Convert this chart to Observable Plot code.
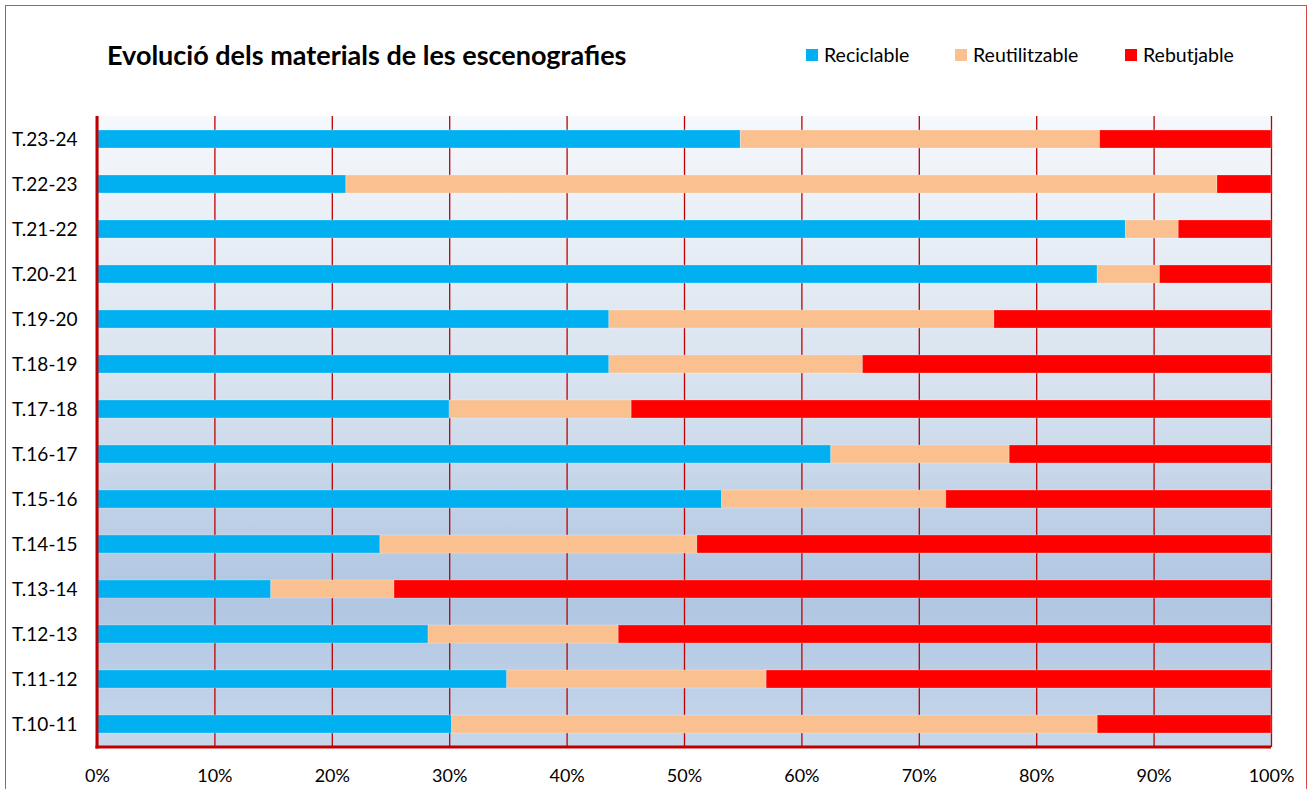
<!DOCTYPE html>
<html>
<head>
<meta charset="utf-8">
<script src="https://cdn.jsdelivr.net/npm/d3@7"></script>
<script src="https://cdn.jsdelivr.net/npm/@observablehq/plot@0.6"></script>
<style>
  html, body { margin: 0; padding: 0; background: #fff; }
  #wrap { position: relative; width: 1313px; height: 789px; overflow: hidden; font-family: Lato, "Open Sans", sans-serif; }
  #border { position: absolute; left: 5px; top: 5px; width: 1302px; height: 900px; border: 1px solid #d24a4a; box-sizing: border-box; pointer-events: none; }
</style>
</head>
<body>
<div id="wrap"><div id="border"></div></div>
<script>
const title = "Evolució dels materials de les escenografies";
const categories = ["T.10-11","T.11-12","T.12-13","T.13-14","T.14-15","T.15-16","T.16-17","T.17-18","T.18-19","T.19-20","T.20-21","T.21-22","T.22-23","T.23-24"];
const seriesNames = ["Reciclable","Reutilitzable","Rebutjable"];
const seriesColors = ["#00b0f0","#fac090","#ff0000"];
const reciclable    = [30.2, 34.9, 28.2, 14.8, 24.1, 53.2, 62.5, 30.0, 43.6, 43.6, 85.2, 87.6, 21.2, 54.8];
const reutilitzable = [55.0, 22.1, 16.2, 10.5, 27.0, 19.1, 15.2, 15.5, 21.6, 32.8,  5.3,  4.5, 74.2, 30.6];
const rebutjable    = [14.8, 43.0, 55.6, 74.7, 48.9, 27.7, 22.3, 54.5, 34.8, 23.6,  9.5,  7.9,  4.6, 14.6];
const xTicks = [0,10,20,30,40,50,60,70,80,90,100];

const seriesValues = [reciclable, reutilitzable, rebutjable];
const rows = [];
seriesNames.forEach((s, si) => categories.forEach((c, ci) => rows.push({cat: c, serie: s, value: seriesValues[si][ci]})));

const axisColor = "#c00000";

function background(index, scales, values, dims) {
  const g = d3.create("svg:g");
  const defs = g.append("defs");
  const lg = defs.append("linearGradient").attr("id", "plotbg").attr("x1", 0).attr("y1", 0).attr("x2", 0).attr("y2", 1);
  lg.append("stop").attr("offset", "0%").attr("stop-color", "#f5f8fc");
  lg.append("stop").attr("offset", "45%").attr("stop-color", "#d6e1ee");
  lg.append("stop").attr("offset", "76%").attr("stop-color", "#afc5e1");
  lg.append("stop").attr("offset", "100%").attr("stop-color", "#c7d7eb");
  g.append("rect")
    .attr("x", dims.marginLeft).attr("y", dims.marginTop)
    .attr("width", dims.width - dims.marginLeft - dims.marginRight)
    .attr("height", dims.height - dims.marginTop - dims.marginBottom)
    .attr("fill", "url(#plotbg)");
  return g.node();
}
function axisLines(index, scales, values, dims) {
  const g = d3.create("svg:g").attr("stroke", axisColor).attr("stroke-width", 3).attr("fill", "none");
  const x0 = scales.x(0), yb = dims.height - dims.marginBottom;
  g.append("line").attr("x1", x0).attr("x2", x0).attr("y1", dims.marginTop).attr("y2", yb + 1.5);
  g.append("line").attr("x1", x0 - 1.5).attr("x2", dims.width - dims.marginRight).attr("y1", yb).attr("y2", yb);
  return g.node();
}

const chart = Plot.plot({
  width: 1313,
  height: 789,
  marginTop: 116,
  marginBottom: 42,
  marginLeft: 97,
  marginRight: 42,
  style: {fontFamily: "Lato, 'Open Sans', sans-serif", fontSize: "18px", color: "#000", background: "transparent", overflow: "visible"},
  x: {domain: [0, 100], ticks: xTicks, label: null},
  y: {domain: categories.slice().reverse(), paddingInner: 0.6, paddingOuter: 0.3, align: 0.5, label: null},
  color: {domain: seriesNames, range: seriesColors},
  marks: [
    background,
    Plot.gridX(xTicks, {stroke: axisColor, strokeOpacity: 1, strokeWidth: 1.3}),
    Plot.barX(rows, Plot.stackX({y: "cat", x: "value", fill: "serie", order: seriesNames, stroke: "#ffffff", strokeOpacity: 0.25, strokeWidth: 1})),
    axisLines,
    Plot.axisX(xTicks, {tickSize: 0, tickPadding: 22, tickFormat: d => d + "%", fontSize: 18, fill: "#000", label: null}),
    Plot.axisY({tickSize: 0, tickPadding: 20, fontSize: 19, fill: "#000", label: null})
  ]
});
chart.style.position = "absolute";
chart.style.left = "0px";
chart.style.top = "0px";

const svg = d3.select(chart);
const over = svg.append("g").attr("font-family", "Lato, 'Open Sans', sans-serif").attr("text-anchor", "start");
over.append("text").attr("x", 107).attr("y", 65).attr("font-size", 27).attr("font-weight", "bold").attr("fill", "#000").text(title);
const legendX = [806, 955, 1125];
seriesNames.forEach((s, i) => {
  over.append("rect").attr("x", legendX[i]).attr("y", 49).attr("width", 12).attr("height", 12).attr("fill", seriesColors[i]);
  over.append("text").attr("x", legendX[i] + 18).attr("y", 62).attr("font-size", 19.5).attr("fill", "#000").text(s);
});

document.getElementById("wrap").appendChild(chart);
</script>
</body>
</html>
